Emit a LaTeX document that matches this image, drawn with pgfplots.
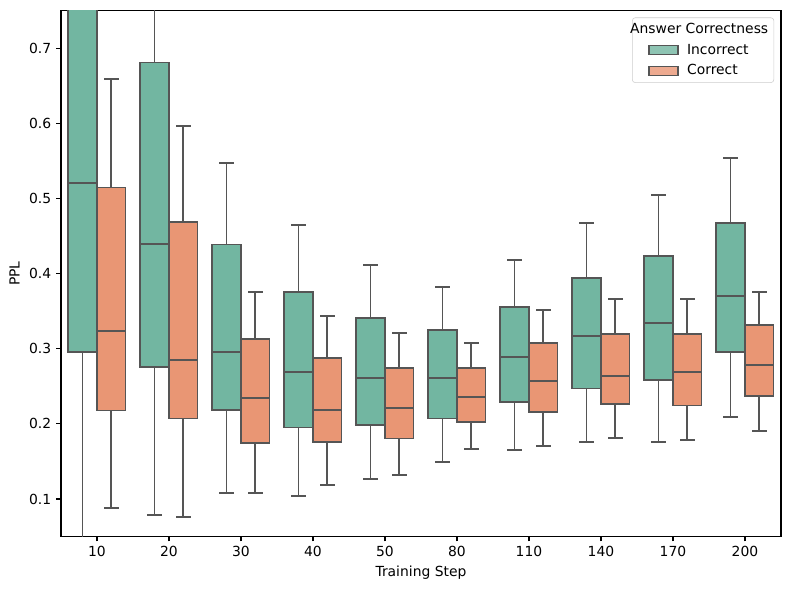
\documentclass[border=0pt]{standalone}
\usepackage{fontspec}
\setmainfont{DejaVu Sans}
\usepackage{pgfplots}
\pgfplotsset{compat=1.18}
\usepgfplotslibrary{statistics}
\usetikzlibrary{calc}

\definecolor{incor}{HTML}{72B6A1}
\definecolor{cor}{HTML}{E99674}
\definecolor{edge}{HTML}{555555}

% args: draw position, lower whisker, Q1, median, Q3, upper whisker
\pgfplotsset{
  bx/.style n args={6}{forget plot, draw=edge, line width=1pt,
    boxplot prepared={draw position=#1, lower whisker=#2, lower quartile=#3,
      median=#4, upper quartile=#5, upper whisker=#6,
      box extend=0.4, whisker extend=0.2}},
  inc/.style={fill=incor},
  cor/.style={fill=cor},
}

\begin{document}
\begin{tikzpicture}
\begin{axis}[
  scale only axis,
  width=518.4pt, height=378.7pt,
  xmin=-0.5, xmax=9.5, ymin=0.05, ymax=0.75,
  xtick={0,...,9},
  xticklabels={10,20,30,40,50,80,110,140,170,200},
  ytick={0.1,0.2,0.3,0.4,0.5,0.6,0.7},
  yticklabel style={/pgf/number format/fixed, /pgf/number format/precision=1, /pgf/number format/fixed zerofill},
  /pgf/number format/assume math mode=true,
  xtick pos=bottom, ytick pos=left,
  tick align=outside,
  major tick length=3.5pt,
  every tick/.style={black, line width=0.8pt},
  axis line style={line width=0.8pt},
  xlabel={Training Step},
  ylabel={PPL},
  boxplot/draw direction=y,
  boxplot/every whisker/.style={draw=edge, line width=1.3pt},
  boxplot/every median/.style={draw=edge, line width=1.3pt},
  legend cell align=left,
  legend style={at={(0.9904,0.9868)}, anchor=north east,
    draw=black!20, rounded corners=2pt, fill=white, fill opacity=0.8, text opacity=1,
    inner xsep=2pt, inner ysep=2pt, column sep=4pt, row sep=2pt},
]
\coordinate (sw) at (rel axis cs:0,0);
\coordinate (ne) at (rel axis cs:1,1);

% Incorrect
\addplot[bx={-0.2}{0.000}{0.2956}{0.520}{0.800}{1.050}, inc] coordinates {};
\addplot[bx={0.8}{0.0787}{0.2756}{0.439}{0.681}{0.900}, inc] coordinates {};
\addplot[bx={1.8}{0.1084}{0.2184}{0.2956}{0.439}{0.547}, inc] coordinates {};
\addplot[bx={2.8}{0.104}{0.1949}{0.2694}{0.3754}{0.4645}, inc] coordinates {};
\addplot[bx={3.8}{0.127}{0.1985}{0.261}{0.3408}{0.4113}, inc] coordinates {};
\addplot[bx={4.8}{0.1496}{0.2068}{0.261}{0.3248}{0.3825}, inc] coordinates {};
\addplot[bx={5.8}{0.1656}{0.2291}{0.2889}{0.3554}{0.4184}, inc] coordinates {};
\addplot[bx={6.8}{0.1759}{0.2472}{0.3169}{0.394}{0.4672}, inc] coordinates {};
\addplot[bx={7.8}{0.1759}{0.2583}{0.3342}{0.4233}{0.5044}, inc] coordinates {};
\addplot[bx={8.8}{0.2091}{0.2956}{0.3705}{0.4672}{0.5537}, inc] coordinates {};
% Correct
\addplot[bx={0.2}{0.088}{0.2175}{0.3235}{0.5146}{0.659}, cor] coordinates {};
\addplot[bx={1.2}{0.076}{0.2068}{0.285}{0.4685}{0.596}, cor] coordinates {};
\addplot[bx={2.2}{0.1084}{0.1745}{0.2348}{0.3129}{0.3754}, cor] coordinates {};
\addplot[bx={3.2}{0.119}{0.1759}{0.2184}{0.2876}{0.3439}, cor] coordinates {};
\addplot[bx={4.2}{0.1324}{0.1802}{0.2211}{0.2743}{0.3209}, cor] coordinates {};
\addplot[bx={5.2}{0.167}{0.2025}{0.2361}{0.2743}{0.308}, cor] coordinates {};
\addplot[bx={6.2}{0.1705}{0.2158}{0.2574}{0.3076}{0.3515}, cor] coordinates {};
\addplot[bx={7.2}{0.1812}{0.2264}{0.2637}{0.3195}{0.3661}, cor] coordinates {};
\addplot[bx={8.2}{0.1785}{0.2245}{0.2694}{0.3195}{0.3661}, cor] coordinates {};
\addplot[bx={9.2}{0.1905}{0.2371}{0.2783}{0.3315}{0.3754}, cor] coordinates {};

\addlegendimage{empty legend}
\addlegendentry{\hspace*{-41pt}Answer Correctness}
\addlegendimage{legend image code/.code={%
  \draw[sharp corners, fill=incor, draw=edge, line width=1pt] (10pt,-3.2pt) rectangle (30.9pt,3.2pt);}}
\addlegendentry{Incorrect}
\addlegendimage{legend image code/.code={%
  \draw[sharp corners, fill=cor, draw=edge, line width=1pt] (10pt,-3.2pt) rectangle (30.9pt,3.2pt);}}
\addlegendentry{Correct}
\end{axis}
\pgfresetboundingbox
\path[use as bounding box] ($(sw)+(-43.9pt,-38.2pt)$) rectangle ($(ne)+(6.5pt,7.6pt)$);
\end{tikzpicture}
\end{document}
